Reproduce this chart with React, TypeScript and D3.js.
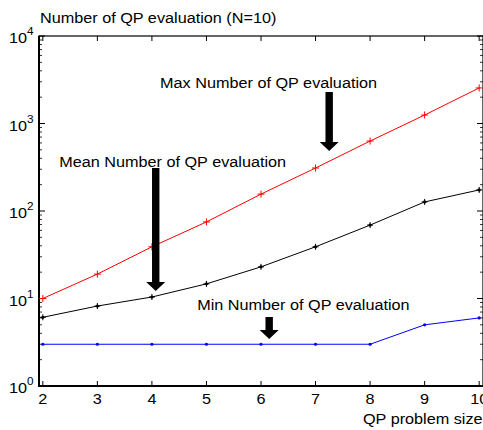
import React from "react";
import * as d3 from "d3";

// QP problem size (x) and number of QP evaluations (N=10)
const sizes = [2, 3, 4, 5, 6, 7, 8, 9, 10];
const maxEval = [10, 19, 39, 75, 156, 310, 630, 1250, 2550];
const meanEval = [6.1, 8.2, 10.4, 14.7, 23, 39, 69, 127, 174];
const minEval = [3, 3, 3, 3, 3, 3, 3, 5, 6];
const yDecades = [0, 1, 2, 3, 4];

// annotation labels, placed in data coordinates
const notes = [
  { label: "Max Number of QP evaluation", tx: 4.15, ty: 2550, ax: 7.25, aTop: 2290, aTip: 485 },
  { label: "Mean Number of QP evaluation", tx: 2.3, ty: 318, ax: 4.07, aTop: 310, aTip: 12.2 },
  { label: "Min Number of QP evaluation", tx: 4.83, ty: 7.4, ax: 6.15, aTop: 6.15, aTip: 3.44 },
];

const W = 483;
const H = 430;
const left = 39;
const right = 483;
const top = 36;
const bottom = 386;
const FONT = "'Liberation Sans', Arial, sans-serif";
const FS = 14.5;
const SX = 1.12;

const x = d3.scaleLinear().domain([1.93, 10.07]).range([left, right]);
const y = d3.scaleLog().domain([1, 10000]).range([bottom, top]);

const Txt = ({ x0, y0, anchor = "start", size = FS, children }: any) => (
  <text
    transform={`translate(${x0},${y0}) scale(${SX},1)`}
    textAnchor={anchor}
    fontFamily={FONT}
    fontSize={size}
    fill="#000"
  >
    {children}
  </text>
);

const App = () => {
  const lineGen = (vals: number[]) =>
    d3.line<number>().x((_, i) => x(sizes[i])).y((v) => y(v))(vals) || "";

  const minorTicks: number[] = [];
  for (let d = 0; d < 4; d++) {
    for (let k = 2; k <= 9; k++) minorTicks.push(k * Math.pow(10, d));
  }

  const plus = (cx: number, cy: number, r: number, color: string, key: string) => (
    <path
      key={key}
      d={`M${cx - r},${cy}H${cx + r}M${cx},${cy - r}V${cy + r}`}
      stroke={color}
      strokeWidth={1}
    />
  );

  return (
    <svg
      width={W}
      height={H}
      style={{ position: "absolute", left: 0, top: 0, background: "#fff" }}
    >
      <rect width={W} height={H} fill="#fff" />

      {/* title */}
      <Txt x0={40} y0={23}>Number of QP evaluation (N=10)</Txt>

      {/* y ticks (left + right) */}
      {yDecades.map((d) => {
        const yy = y(Math.pow(10, d));
        return (
          <g key={"yd" + d}>
            <line x1={left} x2={left + 6} y1={yy} y2={yy} stroke="#000" />
            <line x1={right} x2={right - 6} y1={yy} y2={yy} stroke="#000" />
            <text
              transform={`translate(9,${yy + 7}) scale(${SX},1)`}
              fontFamily={FONT}
              fontSize={FS}
              fill="#000"
            >
              10
              <tspan dy={-8} fontSize={10.5}>
                {d}
              </tspan>
            </text>
          </g>
        );
      })}
      {minorTicks.map((v) => (
        <g key={"ym" + v}>
          <line x1={left} x2={left + 3} y1={y(v)} y2={y(v)} stroke="#000" strokeWidth={0.8} />
          <line x1={right} x2={right - 3} y1={y(v)} y2={y(v)} stroke="#000" strokeWidth={0.8} />
        </g>
      ))}

      {/* x ticks */}
      {sizes.map((s) => (
        <g key={"xt" + s}>
          <line x1={x(s)} x2={x(s)} y1={bottom} y2={bottom - 5} stroke="#000" />
          <line x1={x(s)} x2={x(s)} y1={top} y2={top + 5} stroke="#000" />
          <Txt x0={x(s)} y0={404} anchor="middle">
            {s}
          </Txt>
        </g>
      ))}
      <Txt x0={363} y0={424}>QP problem size</Txt>

      {/* axes box */}
      <rect
        x={left}
        y={top}
        width={right - left}
        height={bottom - top}
        fill="none"
        stroke="#000"
        strokeWidth={1.2}
      />
      <line x1={left} x2={left} y1={top} y2={bottom + 1} stroke="#000" strokeWidth={2} />
      <line x1={left} x2={right} y1={bottom} y2={bottom} stroke="#000" strokeWidth={2} />

      {/* series */}
      <path d={lineGen(maxEval)} fill="none" stroke="#ff0000" strokeWidth={1} />
      <path d={lineGen(meanEval)} fill="none" stroke="#000" strokeWidth={1} />
      <path d={lineGen(minEval)} fill="none" stroke="#0000ff" strokeWidth={1} />
      {maxEval.map((v, i) => plus(x(sizes[i]), y(v), 3.5, "#ff0000", "mx" + i))}
      {meanEval.map((v, i) => (
        <g key={"mn" + i}>
          {plus(x(sizes[i]), y(v), 3, "#000", "mp" + i)}
          <circle cx={x(sizes[i])} cy={y(v)} r={1.6} fill="#000" />
        </g>
      ))}
      {minEval.map((v, i) => (
        <circle key={"mi" + i} cx={x(sizes[i])} cy={y(v)} r={1.6} fill="#0000ff" />
      ))}

      {/* annotations */}
      {notes.map((n) => {
        const ax = x(n.ax);
        const y0 = y(n.aTop);
        const y1 = y(n.aTip);
        const hw = 9.5;
        const hl = 9;
        const sw = 3.7;
        const d = `M${ax - sw},${y0}H${ax + sw}V${y1 - hl}H${ax + hw}L${ax},${y1}L${ax - hw},${y1 - hl}H${ax - sw}Z`;
        return (
          <g key={n.label}>
            <Txt x0={x(n.tx)} y0={y(n.ty)}>
              {n.label}
            </Txt>
            <path d={d} fill="#000" />
          </g>
        );
      })}
    </svg>
  );
};

export default App;
